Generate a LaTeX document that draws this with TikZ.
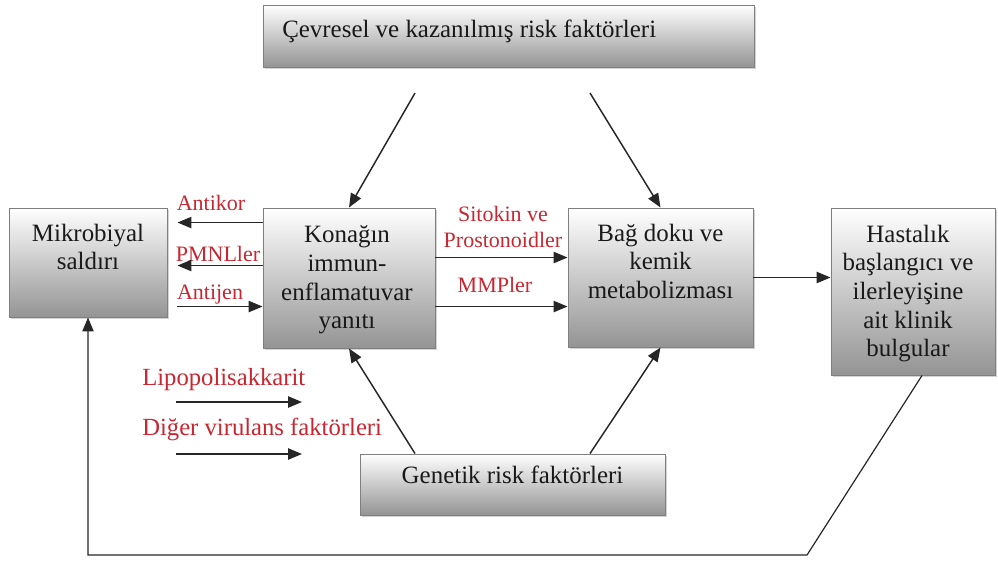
\documentclass[tikz,border=0pt]{standalone}
\usepackage{fontspec}
\setmainfont{Liberation Serif}
\usetikzlibrary{arrows.meta, calc, shadows}
\definecolor{lblred}{RGB}{200,38,48}
\definecolor{boxtxt}{RGB}{25,25,25}
\tikzset{
  box/.style = {draw = black!50, line width = 0.7pt, top color = white, bottom color = black!42,
    drop shadow = {opacity = 0.35, shadow xshift = 1.5pt, shadow yshift = -1.5pt}, inner sep = 0pt},
  btxt/.style = {text = boxtxt, align = center, inner sep = 0pt, font = \fontsize{18.7}{21.5}\selectfont},
  rtxt/.style = {text = lblred, inner sep = 0pt, font = \fontsize{16.5}{19.5}\selectfont},
  arr/.style = {-{Triangle[length = 10.5pt, width = 8.5pt]}, line width = 1.1pt, draw = black!85}
}

\begin{document}
\begin{tikzpicture} [x = 0.75pt, y = -0.75pt]
\useasboundingbox (0, 0) rectangle (998, 561);
\node[box, minimum width = 118.5pt, minimum height = 81.75pt] (b1) at (88, 262.5) {};
\node[box, minimum width = 129pt, minimum height = 105pt] (b2) at (349, 278) {};
\node[box, minimum width = 138.75pt, minimum height = 104.25pt] (b3) at (660.5, 277.5) {};
\node[box, minimum width = 123pt, minimum height = 125.25pt] (b4) at (913, 291.5) {};
\node[box, minimum width = 368.25pt, minimum height = 46.5pt] (b5) at (508.5, 36) {};
\node[box, minimum width = 228.75pt, minimum height = 45.75pt] (b6) at (512.5, 484.5) {};

\node[btxt, anchor = north] (t1) at ($(b1.north) + (0, 16)$) {Mikrobiyal\\saldırı};
\node[btxt, anchor = north] (t2) at ($(b2.north) + (-2, 18)$) {Konağın\\immun-\\enflamatuvar\\yanıtı};
\node[btxt, anchor = north] (t3) at ($(b3.north) + (0, 16)$) {Bağ doku ve\\kemik\\metabolizması};
\node[btxt, anchor = north] (t4) at ($(b4.north) + (-5, 17)$) {Hastalık\\başlangıcı ve\\ilerleyişine\\ait klinik\\bulgular};
\node[btxt, anchor = base west] (t5) at (282, 37) {Çevresel ve kazanılmış risk faktörleri};
\node[btxt, anchor = base] (t6) at (512.5, 483) {Genetik risk faktörleri};

\node[rtxt, anchor = base] (r1) at (211, 210) {Antikor};
\node[rtxt, anchor = base] (r2) at (218, 261) {PMNLler};
\node[rtxt, anchor = base] (r3) at (210, 299) {Antijen};
\node[rtxt, align = center, anchor = south] (r4) at (503, 248) {Sitokin ve\\Prostonoidler};
\node[rtxt, anchor = base] (r5) at (495, 292) {MMPler};
\node[rtxt, anchor = base west, font = \fontsize{18.5}{22}\selectfont] (r6) at (142, 385) {Lipopolisakkarit};
\node[rtxt, anchor = base west, font = \fontsize{18.5}{22}\selectfont] (r7) at (142, 435) {Diğer virulans faktörleri};

\coordinate (c1) at ($(b2.north west) + (0, 15)$);
\coordinate (c2) at ($(b2.north west) + (0, 58)$);
\coordinate (c3) at ($(b2.north west) + (0, 99)$);
\coordinate (c4) at ($(b2.north east) + (0, 50)$);
\coordinate (c5) at ($(b2.north east) + (0, 99)$);
\coordinate (c6) at (415, 93);
\coordinate (c7) at (590, 93);
\coordinate (c8) at (176, 402);
\coordinate (c9) at (302, 402);
\coordinate (c10) at (176, 454);
\coordinate (c11) at (302, 454);
\coordinate (c12) at (807, 555);

\draw[arr, shorten >= 7.5pt] (c1) -- (c1 -| b1.east);
\draw[arr, shorten >= 7.5pt] (c2) -- (c2 -| b1.east);
\draw[arr, shorten <= 7.5pt] (c3 -| b1.east) -- (c3);
\draw[arr] (c4) -- (c4 -| b3.west);
\draw[arr] (c5) -- (c5 -| b3.west);
\draw[arr] (b3.east) -- (b3.east -| b4.west);
\draw[arr] (c6) -- (b2.north);
\draw[arr] (c7) -- (b3.north);
\draw[arr] (c6 |- b6.north) -- (b2.south);
\draw[arr] (c7 |- b6.north) -- (b3.south);
\draw[arr] (c8) -- (c9);
\draw[arr] (c10) -- (c11);
\draw[arr, line width = 0.9pt] ($(b4.south) + (9, 0)$) -- (c12) -- (c12 -| b1.south) -- (b1.south);
\end{tikzpicture}
\end{document}
